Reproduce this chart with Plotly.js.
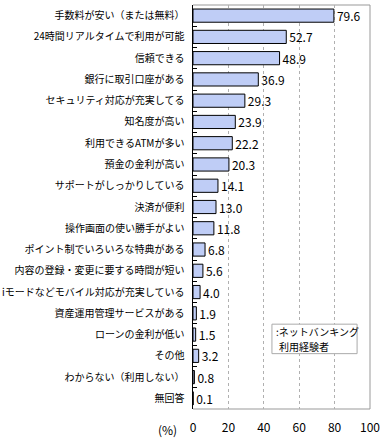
<!DOCTYPE html>
<html>
<head>
<meta charset="utf-8">
<script src="https://cdn.plot.ly/plotly-3.0.1.min.js"></script>
<style>html,body{margin:0;padding:0;background:#fff;}#chart{width:385px;height:440px;}</style>
</head>
<body>
<div id="chart"></div>
<script>
const categories = [
  "手数料が安い（または無料）",
  "24時間リアルタイムで利用が可能",
  "信頼できる",
  "銀行に取引口座がある",
  "セキュリティ対応が充実してる",
  "知名度が高い",
  "利用できるATMが多い",
  "預金の金利が高い",
  "サポートがしっかりしている",
  "決済が便利",
  "操作画面の使い勝手がよい",
  "ポイント制でいろいろな特典がある",
  "内容の登録・変更に要する時間が短い",
  "iモードなどモバイル対応が充実している",
  "資産運用管理サービスがある",
  "ローンの金利が低い",
  "その他",
  "わからない（利用しない）",
  "無回答"
];
const values = [79.6, 52.7, 48.9, 36.9, 29.3, 23.9, 22.2, 20.3, 14.1, 13.0, 11.8, 6.8, 5.6, 4.0, 1.9, 1.5, 3.2, 0.8, 0.1];
const xTicks = [0, 20, 40, 60, 80, 100];
const legendLines = [":ネットバンキング", "利用経験者"];

const font = "Noto Sans CJK JP";
const trace = {
  type: "bar",
  orientation: "h",
  y: categories,
  x: values,
  text: values.map(v => v.toFixed(1)),
  textposition: "outside",
  constraintext: "none",
  cliponaxis: false,
  textfont: {family: font, size: 12, color: "#000"},
  marker: {color: "#bfcdf6", line: {color: "#000", width: 1}},
  hoverinfo: "none"
};
const layout = {
  width: 385, height: 440,
  margin: {l: 193, r: 15, t: 5, b: 31, pad: 0},
  paper_bgcolor: "#fff", plot_bgcolor: "#fff",
  showlegend: false,
  bargap: 0.38,
  font: {family: font, size: 10, color: "#000"},
  xaxis: {
    range: [0, 100], tickvals: xTicks, ticktext: xTicks.map(String),
    showgrid: true, gridcolor: "#b0b0b0", griddash: "3px,3px", gridwidth: 1,
    zeroline: false, showline: false, ticks: "",
    tickfont: {family: font, size: 12, color: "#000"}, ticklabelstandoff: 10, fixedrange: true
  },
  yaxis: {
    type: "category", autorange: "reversed",
    showline: true, linecolor: "#000", linewidth: 1.5,
    ticks: "inside", tickson: "boundaries", ticklen: 4, tickcolor: "#000",
    showgrid: false, zeroline: false,
    tickfont: {family: font, size: 10, color: "#000"}, ticklabelstandoff: 5, fixedrange: true
  },
  shapes: [
    {type: "line", xref: "paper", yref: "paper", x0: 0, x1: 1, y0: 1, y1: 1, line: {color: "#999", width: 1}, layer: "below"},
    {type: "line", xref: "paper", yref: "paper", x0: 1, x1: 1, y0: 0, y1: 1, line: {color: "#999", width: 1}, layer: "below"},
    {type: "line", xref: "paper", yref: "paper", x0: 0, x1: 1, y0: 0, y1: 0, line: {color: "#999", width: 1}, layer: "below"},
    {type: "rect", xref: "x", yref: "paper", x0: 44.6, x1: 92.7, y0: 0.137, y1: 0.210, line: {color: "#aaa", width: 1}, fillcolor: "#fff", layer: "above"}
  ],
  annotations: [
    {text: "(%)", xref: "paper", yref: "paper", x: -0.08, y: 0, yshift: -20, xanchor: "right", yanchor: "middle", showarrow: false, font: {family: font, size: 12, color: "#000"}},
    {text: legendLines[0], xref: "x", yref: "paper", x: 45.8, y: 0.192, xanchor: "left", yanchor: "middle", showarrow: false, font: {family: font, size: 10, color: "#000"}},
    {text: legendLines[1], xref: "x", yref: "paper", x: 47.4, y: 0.154, xanchor: "left", yanchor: "middle", showarrow: false, font: {family: font, size: 10, color: "#000"}}
  ]
};
Plotly.newPlot("chart", [trace], layout, {displayModeBar: false, staticPlot: true});
</script>
</body>
</html>
